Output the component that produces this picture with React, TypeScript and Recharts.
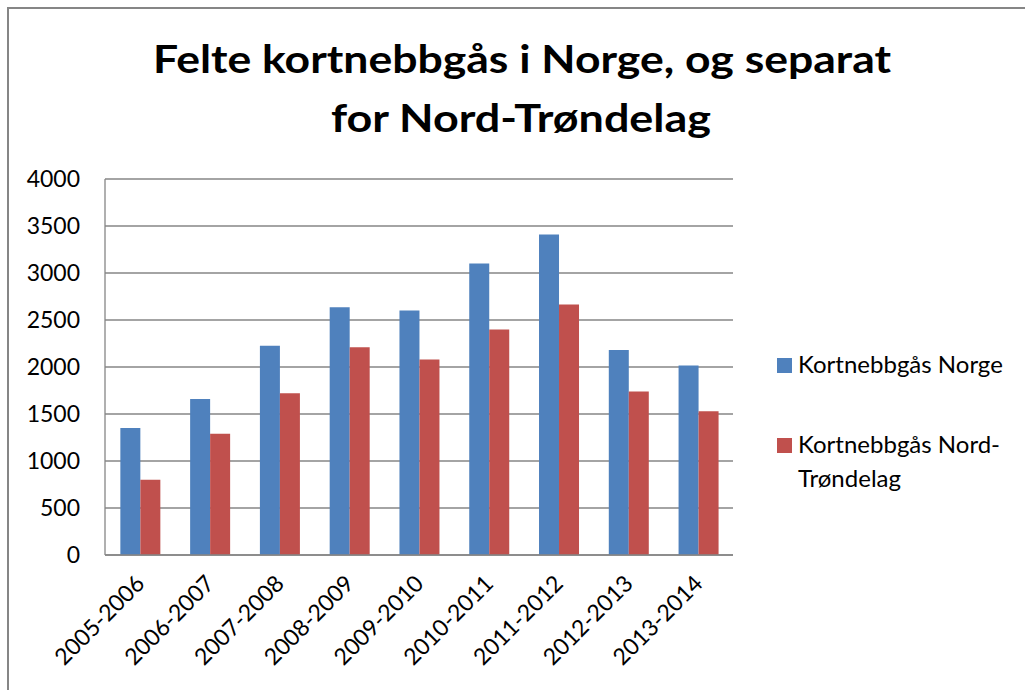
import React from 'react';
import { BarChart, Bar, XAxis, YAxis, CartesianGrid, Legend } from 'recharts';

const categories = ['2005-2006', '2006-2007', '2007-2008', '2008-2009', '2009-2010', '2010-2011', '2011-2012', '2012-2013', '2013-2014'];
const norge = [1350, 1660, 2225, 2635, 2600, 3100, 3410, 2180, 2015];
const nordTrondelag = [800, 1290, 1720, 2210, 2080, 2400, 2665, 1740, 1530];
const yTicks = [0, 500, 1000, 1500, 2000, 2500, 3000, 3500, 4000];
const seriesNames = ['Kortnebbgås Norge', 'Kortnebbgås Nord-Trøndelag'];
const legendLines = [['Kortnebbgås Norge'], ['Kortnebbgås Nord-', 'Trøndelag']];
const titleLines = ['Felte kortnebbgås i Norge, og separat', 'for Nord-Trøndelag'];
const colors = ['#4F81BD', '#C0504D'];

const data = categories.map((c, i) => ({ name: c, norge: norge[i], nt: nordTrondelag[i] }));

const FONT = 'Lato, "Open Sans", sans-serif';
const GRAY = '#868686';

const XTick = (props: any) => {
  const { x, y, payload } = props;
  const ax = x + 6;
  const ay = y + 30;
  return (
    <text x={ax} y={ay} textAnchor="end" fontSize={23} fill="#000" fontFamily={FONT} transform={`rotate(-45, ${ax}, ${ay})`}>
      {payload.value}
    </text>
  );
};

const LegendContent = () => (
  <svg width={250} height={175} style={{ display: 'block', overflow: 'visible' }}>
    {legendLines.map((lines, i) => (
      <g key={i}>
        <rect x={7} y={18 + i * 80} width={15} height={15} fill={colors[i]} />
        {lines.map((ln, j) => (
          <text key={j} x={28} y={33 + i * 80 + j * 34} fontSize={24} fontFamily={FONT} fill="#000">
            {ln}
          </text>
        ))}
      </g>
    ))}
  </svg>
);

export default function App() {
  return (
    <div style={{ position: 'absolute', left: 0, top: 0, width: 1025, height: 690, background: '#fff', fontFamily: FONT, overflow: 'hidden' }}>
      <BarChart
        width={1025}
        height={690}
        data={data}
        margin={{ top: 179, right: 292, bottom: 0, left: 0 }}
        barCategoryGap="22%"
        barGap={0}
      >
        <CartesianGrid horizontal vertical={false} stroke={GRAY} strokeWidth={1.3} />
        <XAxis
          dataKey="name"
          height={135}
          tickLine={false}
          tickSize={0}
          tickMargin={0}
          axisLine={{ stroke: GRAY, strokeWidth: 1.3 }}
          tick={<XTick />}
          interval={0}
        />
        <YAxis
          width={105}
          domain={[0, 4000]}
          ticks={yTicks}
          tickLine={false}
          tickSize={0}
          tickMargin={25}
          axisLine={{ stroke: GRAY, strokeWidth: 1.3 }}
          tick={{ fontSize: 23, fill: '#000', fontFamily: FONT }}
          interval={0}
        />
        <Legend
          layout="horizontal"
          verticalAlign="middle"
          align="center"
          content={<LegendContent />}
          wrapperStyle={{ position: 'absolute', left: 770, top: 340, width: 250, height: 175 }}
        />
        <Bar dataKey="norge" name={seriesNames[0]} fill={colors[0]} isAnimationActive={false} />
        <Bar dataKey="nt" name={seriesNames[1]} fill={colors[1]} isAnimationActive={false} />
      </BarChart>
      <svg width={1025} height={690} style={{ position: 'absolute', left: 0, top: 0, pointerEvents: 'none' }}>
        <line x1={7} y1={8} x2={1025} y2={8} stroke={GRAY} strokeWidth={2} />
        <line x1={8} y1={7} x2={8} y2={690} stroke={GRAY} strokeWidth={2} />
        <text x={522} y={73} textAnchor="middle" fontSize={39} fontWeight="bold" fontFamily={FONT} fill="#000" textLength={738} lengthAdjust="spacingAndGlyphs">
          {titleLines[0]}
        </text>
        <text x={521} y={132} textAnchor="middle" fontSize={39} fontWeight="bold" fontFamily={FONT} fill="#000" textLength={380} lengthAdjust="spacingAndGlyphs">
          {titleLines[1]}
        </text>
      </svg>
    </div>
  );
}
